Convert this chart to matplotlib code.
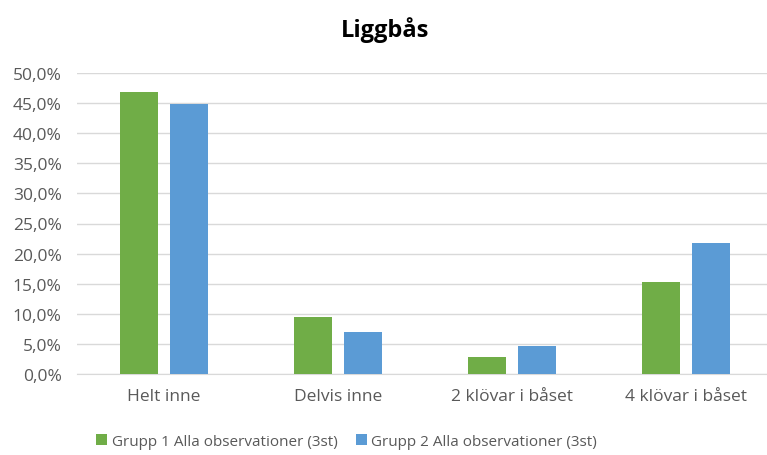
import matplotlib.pyplot as plt
import numpy as np
from matplotlib.ticker import FuncFormatter

plt.rcParams['font.family'] = ['Open Sans', 'DejaVu Sans']

categories = ['Helt inne', 'Delvis inne', '2 klövar i båset', '4 klövar i båset']
grupp1 = [46.9, 9.5, 2.8, 15.2]
grupp2 = [44.9, 7.0, 4.6, 21.7]
series_names = ['Grupp 1 Alla observationer (3st)', 'Grupp 2 Alla observationer (3st)']

green = '#70AD47'
blue = '#5B9BD5'
txt = '#595959'

fig = plt.figure(figsize=(7.67, 4.56), dpi=100)
ax = fig.add_axes([77 / 767, 1 - 375 / 456, 696 / 767, (375 - 74) / 456])

x = np.arange(len(categories))
w = 0.22
off = 0.145
ax.bar(x - off, grupp1, w, color=green, label=series_names[0], zorder=3)
ax.bar(x + off, grupp2, w, color=blue, label=series_names[1], zorder=3)

ax.set_xlim(-0.5, len(categories) - 0.5)
ax.set_ylim(0, 50)
ax.set_yticks(np.arange(0, 51, 5))
ax.yaxis.set_major_formatter(FuncFormatter(lambda v, p: f'{v:.1f}%'.replace('.', ',')))
ax.grid(axis='y', color='#D9D9D9', linewidth=1, zorder=0)
for s in ['top', 'right', 'left']:
    ax.spines[s].set_visible(False)
ax.spines['bottom'].set_color('#D9D9D9')
ax.set_xticks(x)
ax.set_xticklabels(categories)
ax.tick_params(axis='both', length=0, labelsize=12.5, colors=txt)
ax.tick_params(axis='x', pad=10)
ax.tick_params(axis='y', pad=11)

fig.text(0.502, 0.935, 'Liggbås', ha='center', va='center', fontsize=17, fontweight='bold', color='black')

fig.legend(loc='center', bbox_to_anchor=(0.452, 0.03), ncol=2, frameon=False, fontsize=11,
           handlelength=0.7, handleheight=0.7, handletextpad=0.3, columnspacing=1.2,
           labelcolor=txt)

fig.savefig('out.png', dpi=100)
